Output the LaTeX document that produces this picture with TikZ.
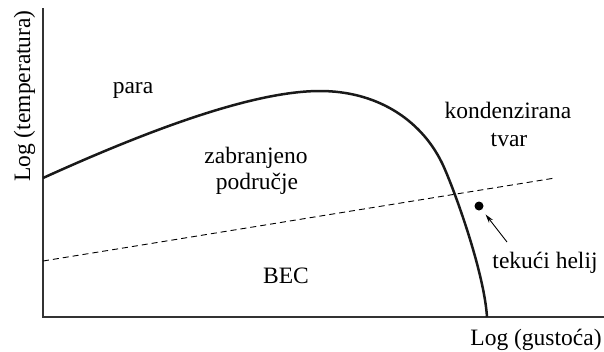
\documentclass[tikz,border=0pt]{standalone}
\usepackage{fontspec}
\setmainfont{Liberation Serif}
\usetikzlibrary{arrows.meta}
\begin{document}
\begin{tikzpicture}[x=1pt,y=-1pt,
  lbl/.style={font=\fontsize{23.5}{28}\selectfont, inner sep=0pt, anchor=base},
  axisline/.style={line width=1.5pt, black!80},
  curveline/.style={line width=2.5pt, black!90, line join=round},
  dashline/.style={line width=0.9pt, dash pattern=on 6pt off 4pt},
  ptr/.style={line width=0.9pt, shorten >=6pt, -{Stealth[length=9pt,width=5pt]}}]
\useasboundingbox (0,0) rectangle (604,351);
% axes
\coordinate (top) at (43,8);
\coordinate (O) at (43,317);
\coordinate (right) at (604,317);
\draw[axisline] (top) -- (O) -- (right);
% coexistence curve
\coordinate (c0) at (43,178);
\coordinate (c1) at (320,91);
\coordinate (c2) at (442,163);
\coordinate (c3) at (487,317);
\draw[curveline] (c0) .. controls (140,134) and (250,91) .. (c1)
  .. controls (375,91) and (420,118) .. (c2)
  .. controls (452,183.5) and (484,270) .. (c3);
% dashed line
\coordinate (d1) at (43,261);
\coordinate (d2) at (555,178);
\draw[dashline] (d1) -- (d2);
% liquid helium dot
\node[circle, fill, inner sep=0pt, minimum size=9pt] (dot) at (479,206) {};
\coordinate (tail) at (507,242);
\draw[ptr] (tail) -- (dot);
% labels
\node[lbl] (para) at (133,93) {para};
\node[lbl] (zab1) at (256,163) {zabranjeno};
\node[lbl] (zab2) at (257,189) {područje};
\node[lbl] (kond1) at (508,118) {kondenzirana};
\node[lbl] (kond2) at (509,146) {tvar};
\node[lbl] (bec) at (286,283) {BEC};
\node[lbl] (he) at (545,268) {tekući helij};
\node[lbl] (xl) at (536,345) {Log (gustoća)};
\node[lbl, rotate=90] (yl) at (30,96) {Log (temperatura)};
\end{tikzpicture}
\end{document}
